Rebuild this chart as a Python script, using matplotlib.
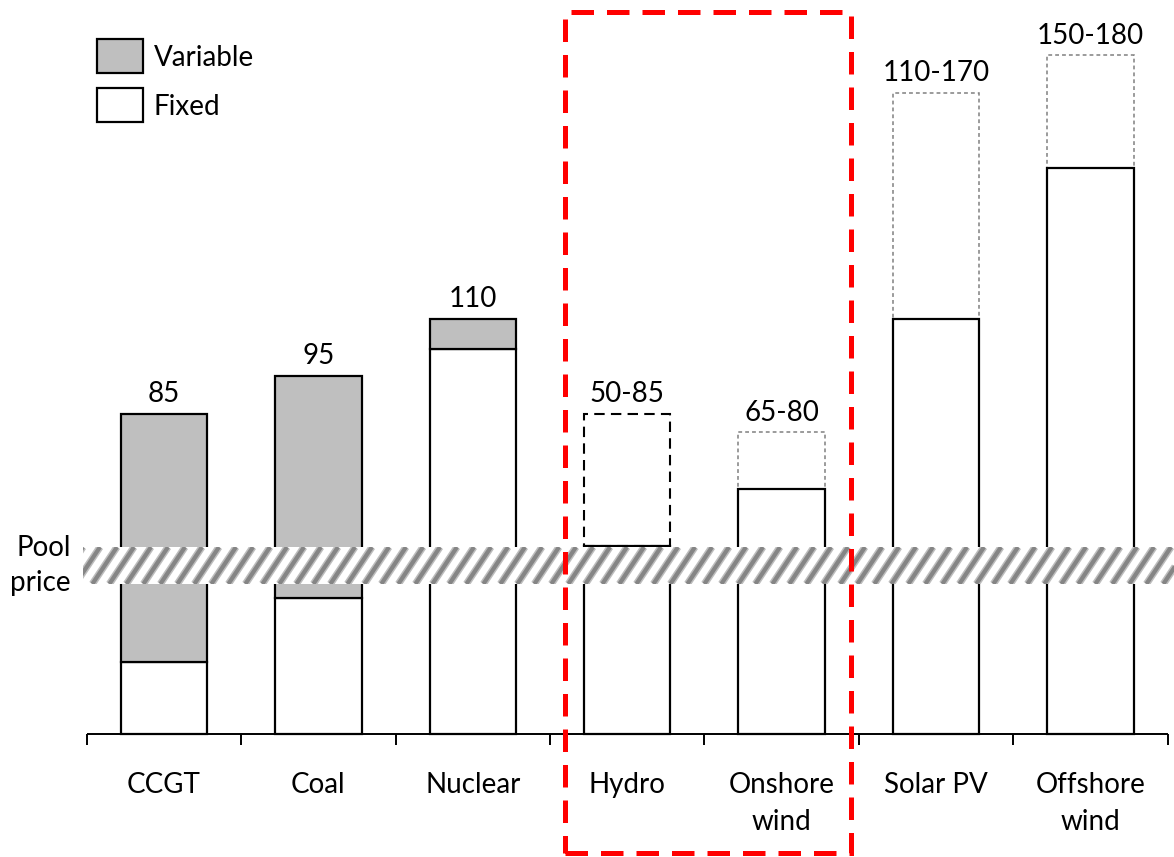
import matplotlib
matplotlib.use("Agg")
import matplotlib.pyplot as plt
from matplotlib.patches import Rectangle

plt.rcParams['font.family'] = ['Lato', 'DejaVu Sans']

# cost per MWh, fixed part and variable part of each technology
categories = ['CCGT', 'Coal', 'Nuclear', 'Hydro', 'Onshore\nwind', 'Solar PV', 'Offshore\nwind']
fixed = [19, 36, 102, 50, 65, 110, 150]
variable = [66, 59, 8, 0, 0, 0, 0]
range_low = [None, None, None, 50, 65, 110, 150]
range_high = [None, None, None, 85, 80, 170, 180]
cost_labels = ['85', '95', '110', '50-85', '65-80', '110-170', '150-180']
pool_price = (39.8, 49.6)

W, H = 1174, 857
XS, YS = 154.4, 3.77          # pixels per category / per unit of cost
X0, Y0 = 164, 734             # pixel position of first category and of zero
fig = plt.figure(figsize=(W / 100, H / 100), dpi=100)
ax = fig.add_axes([0, 0, 1, 1])
ax.set_xlim(-X0 / XS, (W - X0) / XS)
ax.set_ylim(-(H - Y0) / YS, Y0 / YS)
ax.axis('off')


def px(x):
    return (x - X0) / XS


def py(y):
    return (Y0 - y) / YS


grey = '#bfbfbf'
bw = 0.56
fs = 20

for i, cat in enumerate(categories):
    ax.bar(i, fixed[i], width=bw, color='white', edgecolor='black', linewidth=1.6, zorder=2)
    if variable[i]:
        ax.bar(i, variable[i], bottom=fixed[i], width=bw, color=grey,
               edgecolor='black', linewidth=1.6, zorder=2)
    if range_high[i] is not None:
        if i == 3:
            ls, ec, lw = (0, (5, 3)), 'black', 1.5
        else:
            ls, ec, lw = (0, (2.5, 2)), '#808080', 1.1
        ax.bar(i, range_high[i] - range_low[i], bottom=range_low[i], width=bw,
               fill=False, edgecolor=ec, linewidth=lw, linestyle=ls, zorder=1.5)
    top = max(fixed[i] + variable[i], range_high[i] or 0)
    ax.annotate(cost_labels[i], (i, top), xytext=(0, 8.5), textcoords='offset points',
                ha='center', va='baseline', fontsize=fs)
    ax.text(i, py(772), cat, ha='center', va='top', fontsize=fs, linespacing=1.5)

# category axis with boundary ticks
n = len(categories)
ax.hlines(0, -0.5, n - 0.5, color='black', linewidth=1.4, zorder=3)
ax.vlines([k - 0.5 for k in range(n + 1)], -2.9, 0, color='black', linewidth=1.4, zorder=3)

# pool price band: white strip with slanted grey stripes
bx0, bx1 = px(83), px(W)
band = Rectangle((bx0, pool_price[0]), bx1 - bx0, pool_price[1] - pool_price[0],
                 facecolor='white', edgecolor='none', zorder=4)
ax.add_patch(band)
band_px = (pool_price[1] - pool_price[0]) * YS
lean = band_px / 1.5 / XS
step = 17 / XS
xs = bx0 - lean
while xs < bx1 + lean:
    for lw, c in [(5.2, '#bdbdbd'), (3.0, '#858585')]:
        ln, = ax.plot([xs, xs + lean], [pool_price[0], pool_price[1]], color=c,
                      linewidth=lw, solid_capstyle='butt', zorder=4.1)
        ln.set_clip_path(band)
    xs += step
ax.text(px(71), sum(pool_price) / 2, 'Pool\nprice', ha='right', va='center',
        multialignment='right', fontsize=fs, linespacing=1.45)

# highlight frame around hydro and onshore wind
fx0, fx1 = px(565), px(851)
fy0, fy1 = py(853), py(12)
ax.add_patch(Rectangle((fx0, fy0), fx1 - fx0, fy1 - fy0, fill=False, edgecolor='#ff0000',
                       linewidth=3.6, linestyle=(0, (4.5, 2.6)), zorder=5, clip_on=False))

# legend
for (y_top, color, label) in [(39, grey, 'Variable'), (88, 'white', 'Fixed')]:
    ax.add_patch(Rectangle((97 / W, 1 - (y_top + 34) / H), 46 / W, 34 / H, transform=ax.transAxes,
                           facecolor=color, edgecolor='black', linewidth=1.6, zorder=5))
    ax.text(154 / W, 1 - (y_top + 19) / H, label, transform=ax.transAxes,
            ha='left', va='center', fontsize=fs)

fig.savefig('out.png', dpi=100)
